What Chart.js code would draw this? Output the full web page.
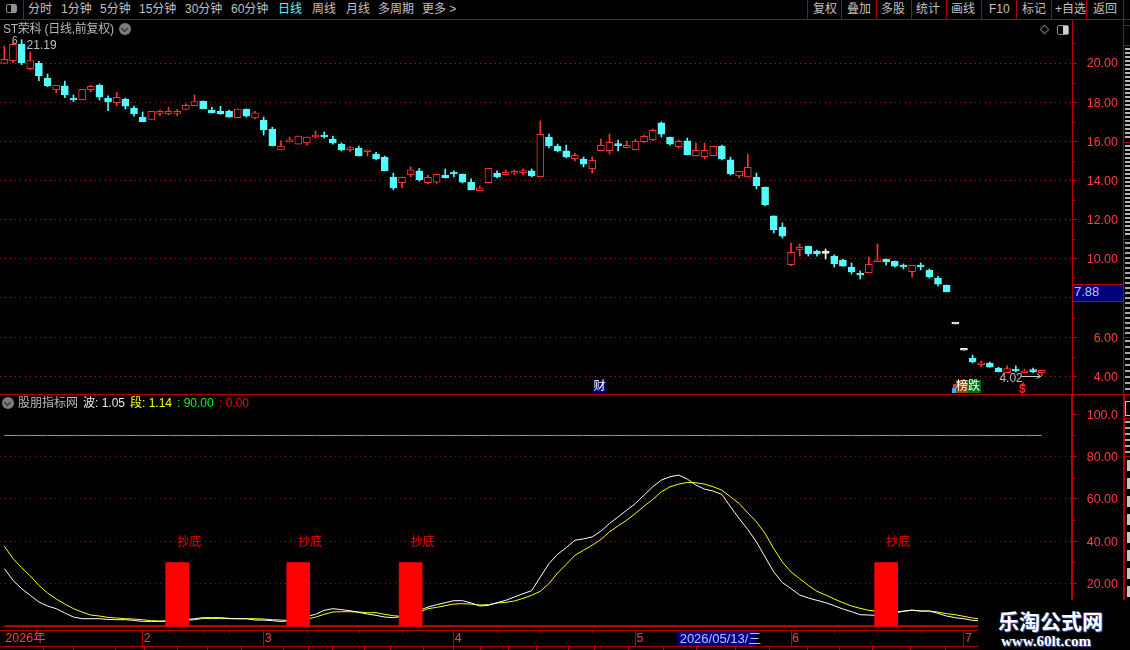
<!DOCTYPE html>
<html><head><meta charset="utf-8">
<script src="https://cdn.jsdelivr.net/npm/chart.js@4"></script>
<style>
html,body{margin:0;padding:0;background:#000;width:1130px;height:650px;overflow:hidden}
canvas{position:absolute;left:0}
.t{position:absolute;white-space:nowrap;font:12px/14px "Liberation Sans","Noto Sans CJK SC",sans-serif;color:#c0c0c0}
.r{position:absolute;background:#b00000}
</style></head><body>
<canvas id="priceChart" width="1130" height="374" style="top:20px;width:1130px;height:374px"></canvas>
<canvas id="indexChart" width="1130" height="255" style="top:395px;width:1130px;height:255px"></canvas>
<div id="ui"></div>
<script>
const opens=[19.98,20.12,20.97,19.71,19.98,19.23,18.62,18.83,18.21,18.13,18.64,18.86,18.21,17.97,18.16,17.70,17.24,17.12,17.43,17.40,17.43,17.63,17.82,18.06,17.60,17.55,17.55,17.21,17.65,17.19,17.09,16.63,15.56,15.97,15.86,15.92,16.22,16.32,16.12,15.86,15.58,15.66,15.47,15.35,15.20,14.18,13.89,14.30,14.49,13.89,13.92,14.28,14.43,14.33,13.92,13.48,13.89,14.38,14.30,14.37,14.40,14.49,14.20,16.22,15.76,15.51,15.12,15.10,14.60,15.52,15.52,15.83,15.68,15.57,15.98,16.09,16.94,16.22,15.73,16.02,15.27,15.22,15.27,15.76,15.05,14.23,14.18,14.18,13.67,12.19,11.62,9.70,10.48,10.65,10.40,10.28,10.14,9.94,9.58,9.21,9.29,9.85,9.99,9.89,9.62,9.34,9.63,9.43,9.02,8.66,6.67,5.33,4.93,4.59,4.68,4.42,4.18,4.36,4.18,4.27,4.18];
const closes=[20.19,20.95,20.02,20.12,19.34,18.83,18.86,18.37,18.11,18.66,18.81,18.26,18.03,18.25,17.80,17.40,17.00,17.53,17.48,17.53,17.48,17.84,18.03,17.65,17.45,17.40,17.24,17.65,17.29,17.45,16.58,15.76,15.76,16.07,16.27,16.22,16.32,16.22,15.92,15.56,15.66,15.25,15.56,15.10,14.49,13.62,14.16,14.54,14.03,14.16,14.32,14.13,14.33,13.92,13.52,13.62,14.62,14.18,14.42,14.43,14.49,14.23,16.36,15.76,15.51,15.20,15.29,14.84,15.03,15.80,15.95,15.78,15.80,16.00,16.26,16.56,16.37,15.86,16.00,15.30,15.54,15.54,15.75,15.10,14.33,14.47,14.67,13.72,12.75,11.47,11.16,10.33,10.55,10.25,10.25,10.28,9.74,9.63,9.33,9.16,9.72,9.94,9.84,9.63,9.58,9.67,9.58,9.07,8.71,8.31,6.67,5.33,4.73,4.65,4.47,4.22,4.39,4.27,4.27,4.24,4.30];
const highs=[20.87,21.04,21.19,20.56,20.09,19.44,18.86,19.08,18.37,18.66,18.88,18.93,18.32,18.50,18.21,17.80,17.50,17.53,17.60,17.74,17.63,17.91,18.37,18.06,17.74,17.79,17.60,17.65,17.65,17.53,17.24,16.72,16.02,16.22,16.27,16.22,16.53,16.48,16.27,15.92,15.73,15.76,15.56,15.44,15.25,14.37,14.16,14.69,14.62,14.26,14.32,14.59,14.49,14.33,14.08,13.72,14.62,14.49,14.54,14.54,14.59,14.59,17.04,16.37,15.86,15.81,15.39,15.20,15.20,16.12,16.37,16.07,16.02,16.10,16.32,16.63,16.99,16.22,16.07,16.17,15.91,15.91,15.75,15.81,15.20,14.47,15.35,14.38,13.67,12.19,11.83,10.81,10.76,10.65,10.45,10.50,10.20,9.99,9.79,9.38,10.09,10.76,9.99,9.89,9.74,9.67,9.79,9.48,9.12,8.66,6.67,5.33,5.09,4.78,4.73,4.47,4.53,4.53,4.37,4.42,4.30];
const lows=[19.98,20.02,19.92,19.66,19.10,18.79,18.49,18.23,18.03,18.13,18.52,18.11,17.57,17.82,17.65,17.29,17.00,17.12,17.31,17.35,17.31,17.62,17.82,17.65,17.45,17.38,17.24,17.21,17.24,17.14,16.32,15.76,15.56,15.97,15.86,15.81,16.17,16.17,15.86,15.51,15.46,15.25,15.25,15.05,14.49,13.52,13.62,14.18,13.97,13.82,13.86,14.13,14.18,13.87,13.52,13.48,13.89,14.13,14.30,14.28,14.28,14.18,14.20,15.66,15.46,15.15,15.00,14.69,14.38,15.52,15.35,15.51,15.68,15.57,15.93,16.03,16.22,15.81,15.66,15.30,15.27,15.10,15.27,15.05,14.28,14.13,14.18,13.57,12.70,11.32,11.06,9.65,10.14,10.14,10.14,9.99,9.58,9.63,9.22,8.97,9.29,9.85,9.68,9.58,9.48,9.07,9.43,9.02,8.61,8.31,6.67,5.33,4.68,4.49,4.47,4.22,4.18,4.22,4.18,4.18,4.02];
const waveLine=[27.11,21.59,17.64,14.49,11.33,9.44,8.18,6.13,4.23,3.44,3.44,3.44,3.13,2.97,2.97,2.65,2.18,2.18,2.18,2.30,2.65,2.97,3.44,3.92,3.92,3.92,3.60,3.44,3.44,2.81,2.81,2.50,2.18,2.40,3.00,4.50,5.50,7.39,8.18,7.71,7.23,6.44,5.65,5.02,4.23,3.92,4.54,5.49,7.38,8.96,10.07,11.01,11.96,11.96,10.85,9.44,9.75,11.01,12.12,13.70,15.27,16.69,23.16,29.48,33.89,37.05,40.52,41.15,42.10,44.78,48.41,51.57,54.72,57.88,61.82,65.77,68.92,70.50,71.29,69.40,66.56,64.66,63.72,62.14,56.30,50.78,45.57,39.73,32.63,25.53,20.48,17.64,14.64,13.23,12.12,11.02,9.60,8.02,6.76,5.34,5.18,5.00,5.40,6.00,7.07,7.55,7.07,7.07,5.97,4.71,3.92,3.44,2.65,2.42,2.15,1.98,1.72,1.55,1.38,1.19,1.05];
const segmentLine=[37.68,31.85,27.59,23.64,19.22,15.59,12.75,10.39,8.18,6.60,5.18,4.71,4.08,3.76,3.44,3.28,2.97,2.50,2.34,2.40,2.60,2.80,2.97,3.60,3.60,3.60,3.44,3.44,3.44,3.44,3.28,2.97,2.81,2.60,2.60,3.20,4.23,5.50,6.60,6.76,6.76,6.60,6.29,6.29,5.50,4.86,4.54,5.02,6.44,8.17,8.80,9.59,10.38,10.54,10.38,9.91,10.07,10.85,11.17,11.80,13.06,14.49,16.38,20.01,25.06,29.16,33.42,35.79,38.15,40.84,44.47,47.31,49.99,53.14,56.61,59.77,63.40,65.77,67.03,67.82,67.66,67.03,65.77,64.19,61.03,57.88,53.46,49.20,43.68,36.58,30.26,25.53,22.37,19.22,16.38,14.65,12.75,11.02,9.44,8.34,7.39,7.00,6.90,6.80,6.92,7.39,7.07,7.07,6.60,5.81,5.34,4.55,3.76,3.30,2.90,2.55,2.20,1.90,1.60,1.35,1.14];
const upperLevel=90;
const lowerLevel=0;
const bottomIndex=[20,34,47,102];
const bottomValue=30;
const bottomLabel='抄底';
const bottomLabelLevel=40;
const slotCount=124;
const monthIndex=[0,16,30,52,73,91,111];
const monthLabels=['2026年','2','3','4','5','6','7'];
const weekTicks=[19,23,26,35,41,46,57,62,68,96,101,106];
const cursorIndex=78;
const cursorLabel='2026/05/13/三';
const priceTicks=[4,6,8,10,12,14,16,18,20];
const priceMinor=[5,7,9,11,13,15,17,19,21];
const indexTicks=[20,40,60,80,100];
const indexMinor=[30,50,70,90];

const categories=Array.from({length:slotCount},(_,i)=>{const k=monthIndex.indexOf(i);return k>=0?monthLabels[k]:'';});
const UP='#ff3232',DOWN='#54fcfc',FLAT='#ffffff',AXIS='#b80000',TICKTXT='#ff3c3c';
const tone=i=>closes[i]>opens[i]?UP:closes[i]<opens[i]?DOWN:FLAT;
const font={family:'"Liberation Sans","Noto Sans CJK SC",sans-serif',size:12.5};

function yScale(min,max,ticks,fmt,gridCol,bw){
  return {type:'linear',position:'right',min,max,
    afterBuildTicks:s=>{s.ticks=ticks.map(v=>({value:v}));},
    afterFit:s=>{s.width=46;s.paddingTop=0;s.paddingBottom=0;},
    border:{color:AXIS,width:bw,dash:[1,4]},
    grid:{color:c=>c.tick&&c.tick.value===100?'transparent':gridCol,lineWidth:1,tickLength:5,tickColor:AXIS,tickBorderDash:[],tickWidth:1},
    ticks:{color:TICKTXT,font,padding:8,crossAlign:'far',autoSkip:false,labelOffset:1,callback:fmt}};
}
const minorPlugin=list=>({id:'minor',afterDraw(c){
  const s=c.scales.y,ctx=c.ctx;ctx.save();ctx.strokeStyle=AXIS;ctx.lineWidth=1;
  list.forEach(v=>{const y=Math.round(s.getPixelForValue(v))+.5;ctx.beginPath();ctx.moveTo(s.left,y);ctx.lineTo(s.left+3,y);ctx.stroke();});
  ctx.restore();}});

new Chart(document.getElementById('priceChart'),{
  type:'bar',
  data:{labels:categories,datasets:[
    {label:'实体',order:1,grouped:false,barThickness:7,minBarLength:2,borderWidth:1,borderSkipped:false,
     data:opens.map((o,i)=>[o,closes[i]]),
     backgroundColor:opens.map((_,i)=>tone(i)===UP?'#000':tone(i)),
     borderColor:opens.map((_,i)=>tone(i))},
    {label:'影线',order:2,grouped:false,barThickness:1,borderWidth:0,
     data:lows.map((l,i)=>[l,highs[i]]),
     backgroundColor:opens.map((_,i)=>tone(i))}
  ]},
  options:{responsive:false,animation:false,devicePixelRatio:1,events:[],
    layout:{padding:{left:0,right:12,top:0,bottom:0}},
    plugins:{legend:{display:false},tooltip:{enabled:false}},
    scales:{
      x:{display:false,offset:true},
      y:yScale(3.096,22.197,priceTicks,v=>Number(v).toFixed(2),'#b01818',1)
    }},
  plugins:[minorPlugin(priceMinor),{id:'notes',afterDraw(c){
    const ctx=c.ctx,x=c.scales.x,y=c.scales.y;ctx.save();
    ctx.font='12px "Liberation Sans",sans-serif';ctx.fillStyle='#c0c0c0';ctx.textBaseline='middle';
    const hi=Math.max(...highs),hiI=highs.indexOf(hi);
    ctx.fillText(hi.toFixed(2),x.getPixelForValue(hiI)+5,y.getPixelForValue(hi)+6);
    ctx.font='10px "Liberation Sans",sans-serif';ctx.fillText('6',x.getPixelForValue(hiI-1)-1,y.getPixelForValue(hi)+2);
    const lo=Math.min(...lows),loI=lows.indexOf(lo),ly=Math.round(y.getPixelForValue(lo))+.5,ex=x.getPixelForValue(loI);
    ctx.font='12px "Liberation Sans",sans-serif';ctx.textAlign='right';ctx.fillText(lo.toFixed(2),ex-19,ly+2);
    ctx.strokeStyle='#c8c8c8';ctx.lineWidth=1;ctx.beginPath();ctx.moveTo(ex-20,ly);ctx.lineTo(ex-1,ly);ctx.moveTo(ex-5,ly-3);ctx.lineTo(ex-1,ly);ctx.lineTo(ex-5,ly+2);ctx.stroke();
    ctx.restore();}}]
});

new Chart(document.getElementById('indexChart'),{
  type:'bar',
  data:{labels:categories,datasets:[
    {type:'bar',label:'抄底',order:1,grouped:false,barThickness:23,backgroundColor:'#ff0000',
     data:categories.map((_,i)=>bottomIndex.includes(i)?bottomValue:null)},
    {type:'line',label:'0',order:2,data:waveLine.map(()=>lowerLevel),borderColor:'#ff0000',borderWidth:1.4,pointRadius:0},
    {type:'line',label:'90',order:3,data:waveLine.map(()=>upperLevel),borderColor:'#28e028',borderWidth:1,pointRadius:0},
    {type:'line',label:'段',order:5,data:segmentLine,borderColor:'#ffff00',borderWidth:1,pointRadius:0,tension:0},
    {type:'line',label:'波',order:4,data:waveLine,borderColor:'#ffffff',borderWidth:1,pointRadius:0,tension:0}
  ]},
  options:{responsive:false,animation:false,devicePixelRatio:1,events:[],
    layout:{padding:{left:0,right:12,top:0,bottom:3}},
    plugins:{legend:{display:false},tooltip:{enabled:false}},
    scales:{
      x:{type:'category',offset:true,position:'bottom',
        afterFit:s=>{s.height=17;},
        border:{color:AXIS,width:1},
        grid:{offset:false,drawOnChartArea:false,tickLength:16,tickWidth:1,tickColor:c=>c.tick&&c.tick.label&&c.index>0?AXIS:'transparent'},
        ticks:{autoSkip:false,maxRotation:0,minRotation:0,align:'start',padding:-15,labelOffset:1,color:TICKTXT,font,
          callback(v){return this.getLabelForValue(v);}}},
      y:yScale(-1.89,109.12,indexTicks,v=>v===100?'100.0':Number(v).toFixed(2),'#8a1010',2)
    }},
  plugins:[minorPlugin(indexMinor),{id:'marks',afterDraw(c){
    const ctx=c.ctx,x=c.scales.x,y=c.scales.y;ctx.save();
    ctx.font='12px "Noto Sans CJK SC",sans-serif';ctx.fillStyle='#ff0000';ctx.textBaseline='middle';
    bottomIndex.forEach(i=>ctx.fillText(bottomLabel,x.getPixelForValue(i),y.getPixelForValue(bottomLabelLevel)));
    ctx.strokeStyle=AXIS;ctx.lineWidth=1;
    weekTicks.forEach(i=>{const p=Math.round(x.getPixelForValue(i))+.5;ctx.beginPath();ctx.moveTo(p,y.bottom);ctx.lineTo(p,y.bottom+3);ctx.stroke();});
    const cx=x.getPixelForValue(cursorIndex)-1;
    ctx.fillStyle='#00008c';ctx.fillRect(cx,y.bottom+1,78,15);
    ctx.fillStyle='#b8c4f4';ctx.font='13px "Liberation Sans","Noto Sans CJK SC",sans-serif';ctx.fillText(cursorLabel,cx+2,y.bottom+9);
    ctx.restore();}}]
});

/* ---- terminal chrome ---- */
const ui=document.getElementById('ui');
function T(x,y,s,col,size,extra){const d=document.createElement('div');d.className='t';d.textContent=s;
  d.style.left=x+'px';d.style.top=y+'px';if(col)d.style.color=col;if(size)d.style.fontSize=size+'px';
  if(extra)Object.assign(d.style,extra);ui.appendChild(d);return d;}
function R(x,y,w,h,col,extra){const d=document.createElement('div');d.className='r';
  Object.assign(d.style,{left:x+'px',top:y+'px',width:w+'px',height:h+'px'});if(col)d.style.background=col;
  if(extra)Object.assign(d.style,extra);ui.appendChild(d);return d;}

R(0,19,1130,1);R(23,0,1,19);
[807,841,876,911,946,981,1016,1051,1086,1123].forEach(x=>R(x,0,1,19));
R(6,4,11,9,'transparent',{border:'1px solid #909090',borderRadius:'2px',boxSizing:'border-box'});R(11,5,5,7,'#909090');
[[28,'分时'],[61,'1分钟'],[100,'5分钟'],[139,'15分钟'],[185,'30分钟'],[231,'60分钟'],[278,'日线','#54fcfc'],[312,'周线'],[346,'月线'],[378,'多周期'],[422,'更多 >']]
 .forEach(a=>T(a[0],2,a[1],a[2]));
[[813,'复权'],[847,'叠加'],[881,'多股'],[916,'统计'],[951,'画线'],[989,'F10'],[1022,'标记'],[1055,'+自选'],[1093,'返回']]
 .forEach(a=>T(a[0],2,a[1]));

T(3,22,'ST荣科 (日线,前复权)','#b8b8b8',12,{letterSpacing:'-0.25px'});
function chevron(cx,cy){R(cx-6,cy-6,12,12,'#7c7c7c',{borderRadius:'50%'});
  R(cx-3,cy-3,5,5,'transparent',{borderRight:'1.4px solid #222',borderBottom:'1.4px solid #222',transform:'rotate(45deg)',boxSizing:'border-box'});}
chevron(125,29);chevron(8,403);
R(1041,26,7,7,'transparent',{border:'1px solid #707070',transform:'rotate(45deg)',boxSizing:'border-box'});
R(1057,25,12,10,'transparent',{border:'1px solid #888',borderRadius:'2px',boxSizing:'border-box'});R(1063,26,5,8,'#d0d0d0');

R(0,394,1130,1);
T(18,396,'股朋指标网','#b8b8b8');
T(83,396,'波: 1.05','#e8e8e8');
T(130,396,'段: 1.14','#ffff00');
T(177,396,': 90.00','#00ff00');
T(219,396,': 0.00','#ff0000');

T(593,380,'财','#ffffff',12,{background:'#00007c',width:'13px',height:'13px',lineHeight:'13px',textAlign:'center'});
R(952,388,4,5,'#30b0ff');R(953,384,3,4,'#ff3030');
T(956,380,'榜','#ffffff',12,{background:'#8a4a10',width:'12px',height:'13px',lineHeight:'13px'});
T(968,380,'跌','#ffffff',12,{background:'#006c10',width:'13px',height:'13px',lineHeight:'13px'});
R(1020,382,0,0,'transparent',{borderLeft:'3px solid transparent',borderRight:'3px solid transparent',borderBottom:'4px solid #ff2020'});
T(1019,383,'$','#ff2020',12,{fontWeight:'bold',lineHeight:'12px'});

R(1073,284,50,16,'#00007c',{borderTop:'1px solid #c00000',borderBottom:'1px solid #c00000'});
T(1074,285,'7.88','#b8c4f4',13);

/* right side panel */
R(1123,19,1,581);R(1122.5,394,2,206);
[25,45,142,239,337,418,456].forEach(y=>R(1123,y,7,1));
const stripe=(y,h,step,col)=>R(1125,y,5,h,`repeating-linear-gradient(${col} 0 2px,transparent 2px ${step}px)`);
stripe(48,92,4,'#b8b8b8');stripe(145,92,4,'#b8b8b8');stripe(242,92,5,'#a8a8a8');stripe(340,50,6,'#a8a8a8');
R(1125,401,5,15,'transparent',{borderLeft:'1px solid #e0e000',borderTop:'1px solid #e0e000',borderBottom:'1px solid #e0e000',boxSizing:'border-box'});
stripe(421,32,6,'#a8a8a8');
R(1127,460,3,140,'repeating-linear-gradient(#c8c8c8 0 11px,transparent 11px 18px)');

/* bottom strip */
R(0,646,978,1);
[43,73,115,144,177,207,241,283,308,332,364,390,423,453,480,508,536,568,594,628,663,696,735,769,807,839,872,910,945].forEach(x=>R(x,647,1,3));

/* watermark */
R(978,600,152,50,'#000',{zIndex:5});
T(998,608,'乐淘公式网','#ffffff',21,{zIndex:6,fontWeight:'bold',lineHeight:'24px',letterSpacing:'0px',textShadow:'1px 1px 1px #4060c0',fontFamily:'"Noto Sans CJK SC",sans-serif'});
T(1001,633,'www.60lt.com','#ffffff',15,{zIndex:6,fontWeight:'bold',lineHeight:'16px',textShadow:'1px 1px 1px #4060c0',fontFamily:'"Liberation Serif",serif'});
</script>
</body></html>
